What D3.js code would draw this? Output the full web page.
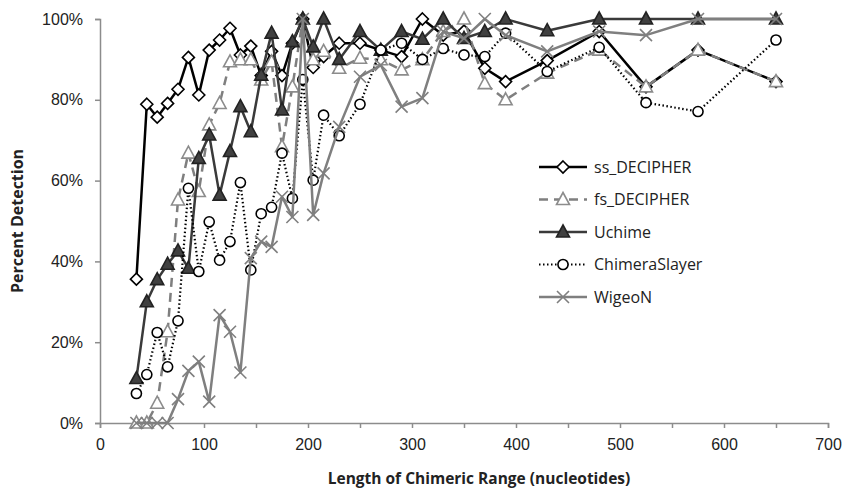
<!DOCTYPE html>
<html>
<head>
<meta charset="utf-8">
<script src="https://cdn.jsdelivr.net/npm/d3@7"></script>
<style>
  body { margin: 0; background: #fff; }
  svg { font-family: "Open Sans", "Noto Sans", sans-serif; }
</style>
</head>
<body>
<svg id="chart" width="844" height="491"></svg>
<script>
// chimeric range lengths (nucleotides)
var lengths = [35, 45, 55, 65, 75, 85, 95, 105, 115, 125, 135, 145, 155, 165, 175, 185, 195,
  205, 215, 230, 250, 270, 290, 310, 330, 350, 370, 390, 430, 480, 525, 575, 650];

// percent detection per method
var ss_decipher = [35.6, 78.9, 75.7, 79.1, 82.6, 90.5, 81.2, 92.3, 94.8, 97.7, 91.1, 93.3, 86, 92,
  86, 94, 100, 88, 90.7, 94, 94, 92.3, 90.7, 100, 96, 97, 87.8, 84.5, 89.7, 96.9, 83.2, 92.3, 84.5];
var fs_decipher = [0, 0, 4.9, 22.6, 55.2, 66.8, 57.3, 73.8, 79.1, 89.4, 89.9, 89.9, 84.9, 89.4,
  68.4, 83.2, 100, 89.9, 92, 87.8, 90.3, 89.9, 87.4, 89.9, 96.9, 100, 84, 80, 86.6, 92.3, 83.2, 92.3, 84.5];
var uchime = [11, 30, 35.5, 39.3, 42.6, 38.3, 65.5, 71.3, 56.4, 67.2, 78.3, 72.1, 86.1, 96.5,
  77.5, 94.4, 100, 93.1, 100, 90, 96.9, 92.3, 96.9, 95, 100, 95.2, 96.9, 100, 97.1, 100, 100, 100, 100];
var chimeraslayer = [7.3, 12, 22.4, 13.9, 25.3, 58.1, 37.5, 49.8, 40.3, 44.9, 59.5, 37.9, 51.8, 53.4,
  66.8, 55.6, 85, 60.1, 76.2, 71.1, 78.9, 92.3, 94, 90, 92.7, 91.1, 90.7, 96.5, 87, 93, 79.3, 77.1, 94.8];
var wigeon = [0, 0, 0, 0, 5.9, 12.9, 15.2, 5.3, 26.7, 22.6, 12.5, 40.8, 44.9, 43.6,
  56, 51, 100, 51.5, 61.8, 73.3, 85.7, 88.6, 78.3, 80.4, 96.9, 95.2, 100, 96, 92, 96.9, 96, 100, 100];

var series_names = ["ss_DECIPHER", "fs_DECIPHER", "Uchime", "ChimeraSlayer", "WigeoN"];
var series_values = [ss_decipher, fs_decipher, uchime, chimeraslayer, wigeon];

var x_ticks = d3.range(0, 701, 50);
var y_ticks = [0, 20, 40, 60, 80, 100];

var svg = d3.select("#chart");

var x = d3.scaleLinear().domain([0, 700]).range([100, 828]);
var y = d3.scaleLinear().domain([0, 100]).range([423, 19]);

// styles per series
var styles = [
  {line: "#000", width: 2.5, dash: null, marker: "diamond", fill: "#fff", stroke: "#000"},
  {line: "#7f7f7f", width: 2.5, dash: "9,6", marker: "triangle", fill: "#fff", stroke: "#8c8c8c"},
  {line: "#3a3a3a", width: 2.5, dash: null, marker: "triangle", fill: "#404040", stroke: "#222"},
  {line: "#000", width: 2.2, dash: "1.5,2.5", marker: "circle", fill: "#fff", stroke: "#000"},
  {line: "#7f7f7f", width: 2.5, dash: null, marker: "cross", fill: "none", stroke: "#7f7f7f"}
];

function marker_path(kind) {
  if (kind == "diamond") return "M0,-6L6,0L0,6L-6,0Z";
  if (kind == "triangle") return "M0,-7L6.5,5L-6.5,5Z";
  if (kind == "circle") return d3.symbol().type(d3.symbolCircle).size(80)();
  return "M-6,-6L6,6M-6,6L6,-6";
}

// axes
var xAxis = d3.axisBottom(x).tickValues(x_ticks).tickSize(5)
  .tickFormat(function(d) { return d % 100 == 0 ? d : ""; });
var gx = svg.append("g")
  .attr("transform", "translate(0," + y(0) + ")")
  .call(xAxis);
gx.select(".domain").attr("stroke", "#8c8c8c").attr("stroke-width", 1.5);
gx.selectAll(".tick line").attr("stroke", "#8c8c8c").attr("stroke-width", 1.5);
gx.selectAll(".tick text").attr("dy", "1.2em").style("font-size", "16px").attr("fill", "#222");

var yAxis = d3.axisLeft(y).tickValues(y_ticks).tickSize(5)
  .tickFormat(function(d) { return d + "%"; });
var gy = svg.append("g")
  .attr("transform", "translate(" + x(0) + ",0)")
  .call(yAxis);
gy.select(".domain").attr("stroke", "#8c8c8c").attr("stroke-width", 1.5);
gy.selectAll(".tick line").attr("stroke", "#8c8c8c").attr("stroke-width", 1.5);
gy.selectAll(".tick text").attr("x", -17).style("font-size", "16px").attr("fill", "#222");

// axis titles
svg.append("text")
  .attr("x", 479).attr("y", 484)
  .attr("text-anchor", "middle")
  .style("font-size", "15.5px").style("font-weight", "bold")
  .attr("fill", "#222")
  .text("Length of Chimeric Range (nucleotides)");

svg.append("text")
  .attr("transform", "translate(23,221) rotate(-90)")
  .attr("text-anchor", "middle")
  .style("font-size", "16px").style("font-weight", "bold")
  .attr("fill", "#222")
  .text("Percent  Detection");

// series
var line = d3.line()
  .x(function(d, i) { return x(lengths[i]); })
  .y(function(d) { return y(d); });

series_values.forEach(function(vals, s) {
  var st = styles[s];
  var g = svg.append("g");
  g.append("path")
    .attr("d", line(vals))
    .attr("fill", "none")
    .attr("stroke", st.line)
    .attr("stroke-width", st.width)
    .attr("stroke-dasharray", st.dash)
    .attr("stroke-linejoin", "round");
  g.selectAll("path.m")
    .data(vals)
    .enter().append("path")
    .attr("class", "m")
    .attr("transform", function(d, i) { return "translate(" + x(lengths[i]) + "," + y(d) + ")"; })
    .attr("d", marker_path(st.marker))
    .attr("fill", st.fill)
    .attr("stroke", st.stroke)
    .attr("stroke-width", 1.6);
});

// legend
var legend = svg.append("g").attr("transform", "translate(539,167)");
series_names.forEach(function(name, s) {
  var st = styles[s];
  var row = legend.append("g").attr("transform", "translate(0," + (s * 32.5) + ")");
  row.append("line")
    .attr("x1", 0).attr("x2", 48)
    .attr("stroke", st.line)
    .attr("stroke-width", st.width)
    .attr("stroke-dasharray", st.dash);
  row.append("path")
    .attr("transform", "translate(24,0)")
    .attr("d", marker_path(st.marker))
    .attr("fill", st.fill)
    .attr("stroke", st.stroke)
    .attr("stroke-width", 1.6);
  row.append("text")
    .attr("x", 55).attr("dy", "0.35em")
    .style("font-size", "16px")
    .attr("fill", "#222")
    .text(name);
});
</script>
</body>
</html>
